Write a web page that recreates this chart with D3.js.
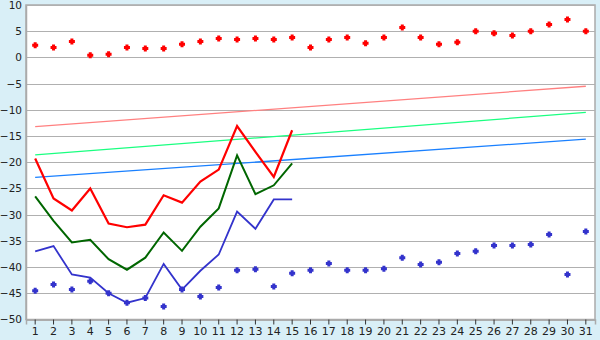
<!DOCTYPE html>
<html><head><meta charset="utf-8">
<script src="https://cdn.jsdelivr.net/npm/d3@7/dist/d3.min.js"></script>
<style>
html,body{margin:0;padding:0;background:#d9eff7;}
svg{display:block;}
text{font-family:"DejaVu Sans",Verdana,sans-serif;font-size:11px;fill:#222;}
</style></head><body>
<script>
const days = d3.range(1, 32);
const yTicks = [10, 5, 0, -5, -10, -15, -20, -25, -30, -35, -40, -45, -50];

const redDots = [2.3,1.9,3.05,0.4,0.6,1.9,1.7,1.7,2.5,3.05,3.6,3.4,3.6,3.4,3.8,1.9,3.4,3.8,2.7,3.8,5.7,3.8,2.5,2.9,5.0,4.6,4.2,5.0,6.3,7.25,5.0];
const blueDots = [-44.5,-43.3,-44.3,-42.7,-45.0,-46.8,-45.9,-47.5,-44.3,-45.6,-43.9,-40.6,-40.4,-43.7,-41.2,-40.6,-39.3,-40.6,-40.6,-40.3,-38.2,-39.5,-39.1,-37.4,-37.0,-35.9,-35.9,-35.7,-33.8,-41.4,-33.2];
const redLine = [-19.3,-26.9,-29.2,-25.0,-31.7,-32.4,-31.9,-26.3,-27.7,-23.7,-21.4,-13.1,-18.0,-22.8,-13.9];
const greenLine = [-26.5,-31.2,-35.3,-34.8,-38.5,-40.5,-38.2,-33.4,-36.9,-32.3,-28.8,-18.7,-26.1,-24.4,-20.2];
const blueLine = [-37.0,-36.0,-41.4,-42.0,-45.0,-46.8,-45.9,-39.4,-44.3,-40.7,-37.6,-29.4,-32.7,-27.1,-27.1];
const redTrend = [[1,-13.2],[31,-5.5]];
const greenTrend = [[1,-18.6],[31,-10.5]];
const blueTrend = [[1,-22.9],[31,-15.6]];

const W = 600, H = 340;
const m = {left: 26, right: 5, top: 5, bottom: 20.5};
const svg = d3.select("body").append("svg").attr("width", W).attr("height", H);

const x = d3.scaleBand().domain(days).range([m.left, W - m.right]);
const xc = d => x(d) + x.bandwidth() / 2;
const y = d3.scaleLinear().domain([-50, 10]).range([H - m.bottom, m.top]);

svg.append("rect").attr("x", m.left).attr("y", m.top)
  .attr("width", W - m.left - m.right).attr("height", H - m.top - m.bottom)
  .attr("fill", "#fff").attr("stroke", "#aaa").attr("stroke-width", 1.5);

// grid
svg.append("g").selectAll("line").data(yTicks).join("line")
  .attr("x1", m.left).attr("x2", W - m.right)
  .attr("y1", d => Math.round(y(d)) + 0.5).attr("y2", d => Math.round(y(d)) + 0.5)
  .attr("stroke", "#b0b0b0").attr("stroke-width", 1.2);

// y axis
const ya = svg.append("g").attr("transform", `translate(${m.left},0)`)
  .call(d3.axisLeft(y).tickValues(yTicks).tickSize(0).tickPadding(4));
ya.select(".domain").attr("stroke", "#aaa").attr("stroke-width", 1.5);
ya.selectAll("text").style("font-size", "10.5px").style("font-family", "DejaVu Sans, Verdana, sans-serif").attr("fill", "#222");

// x axis
const xa = svg.append("g").attr("transform", `translate(0,${H - m.bottom})`)
  .call(d3.axisBottom(x).tickSize(5).tickPadding(3));
xa.select(".domain").attr("stroke", "#aaa").attr("stroke-width", 1.5);
xa.selectAll(".tick line").attr("stroke", "#333");
xa.selectAll("text").style("font-size", "11px").style("font-family", "DejaVu Sans, Verdana, sans-serif").attr("fill", "#222");

// trend lines
const tline = d3.line().x(d => xc(d[0])).y(d => y(d[1]));
[[redTrend, "#ff8080"], [greenTrend, "#1aff80"], [blueTrend, "#1a80ff"]].forEach(([data, c]) => {
  svg.append("path").attr("d", tline(data)).attr("fill", "none")
    .attr("stroke", c).attr("stroke-width", 1.3);
});

// main lines
const line = d3.line().x((d, i) => xc(days[i])).y(d => y(d));
[[blueLine, "#3333cc", 1.8], [greenLine, "#006600", 2], [redLine, "#ff0000", 2.2]].forEach(([data, c, w]) => {
  svg.append("path").attr("d", line(data)).attr("fill", "none")
    .attr("stroke", c).attr("stroke-width", w).attr("stroke-linejoin", "miter");
});

// dots: small plus marker
const plusSym = {
  draw(ctx, size) {
    const r = 3, a = 1.5;
    ctx.moveTo(-a, -r); ctx.lineTo(a, -r); ctx.lineTo(a, -a); ctx.lineTo(r, -a);
    ctx.lineTo(r, a); ctx.lineTo(a, a); ctx.lineTo(a, r); ctx.lineTo(-a, r);
    ctx.lineTo(-a, a); ctx.lineTo(-r, a); ctx.lineTo(-r, -a); ctx.lineTo(-a, -a);
    ctx.closePath();
  }
};
const sym = d3.symbol().type(plusSym);
svg.append("g").selectAll("path").data(redDots).join("path")
  .attr("d", sym).attr("transform", (d, i) => `translate(${xc(days[i])},${y(d)})`)
  .attr("fill", "#ff0000");
svg.append("g").selectAll("path").data(blueDots).join("path")
  .attr("d", sym).attr("transform", (d, i) => `translate(${xc(days[i])},${y(d)})`)
  .attr("fill", "#3333cc");
</script>
</body></html>
